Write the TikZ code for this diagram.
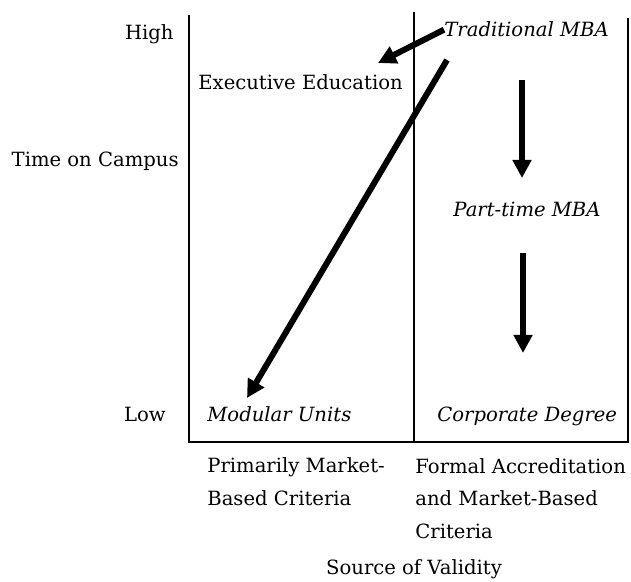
\documentclass[tikz,border=0pt]{standalone}
\usepackage{fontspec}
\setmainfont{DejaVu Serif}
\usetikzlibrary{arrows.meta}

\begin{document}
\begin{tikzpicture}[x=0.5pt, y=-0.5pt,
	every node/.style={font=\fontsize{9.8}{16.2}\selectfont, inner sep=0pt},
	prog/.style={font=\fontsize{9.8}{16.2}\selectfont\itshape},
	fat/.style={line width=3pt, -{Triangle[length=9pt,width=9pt]}},
	frame/.style={line width=1pt}]
	\useasboundingbox (0,0) rectangle (631,582);
	% axes and the divider between the two columns
	\draw[frame] (189,15) -- (189,442) -- (628,442) -- (628,18);
	\draw[frame] (414,12) -- (414,442);
	% vertical axis
	\node[anchor=base east] (high) at (174,40) {High};
	\node[anchor=base east] (campus) at (179,167) {Time on Campus};
	\node[anchor=base east] (low) at (166,421) {Low};
	% programmes
	\node[prog, anchor=base west] (trad) at (444,37) {Traditional MBA};
	\node[anchor=base west] (exec) at (198,90) {Executive Education};
	\node[prog, anchor=base] (part) at (527,217) {Part-time MBA};
	\node[prog, anchor=base west] (modular) at (207,421) {Modular Units};
	\node[prog, anchor=base west] (corp) at (437,421) {Corporate Degree};
	% horizontal axis (base = last line)
	\node[anchor=base west, align=left] (market) at (207,505) {Primarily Market-\\Based Criteria};
	\node[anchor=base west, align=left] (formal) at (415,538) {Formal Accreditation\\and Market-Based\\Criteria};
	\node[anchor=base] (validity) at (414,574) {Source of Validity};
	% moves between programmes
	\coordinate (exectip) at (378,63);
	\coordinate (dtop) at (447,60);
	\coordinate (dtip) at (247,398);
	\coordinate (d1a) at (522,80);
	\coordinate (d1b) at (522,178);
	\coordinate (d2a) at (523,253);
	\coordinate (d2b) at (523,353);
	\draw[fat] (trad.west) -- (exectip);
	\draw[fat] (dtop) -- (dtip);
	\draw[fat] (d1a) -- (d1b);
	\draw[fat] (d2a) -- (d2b);
\end{tikzpicture}
\end{document}
